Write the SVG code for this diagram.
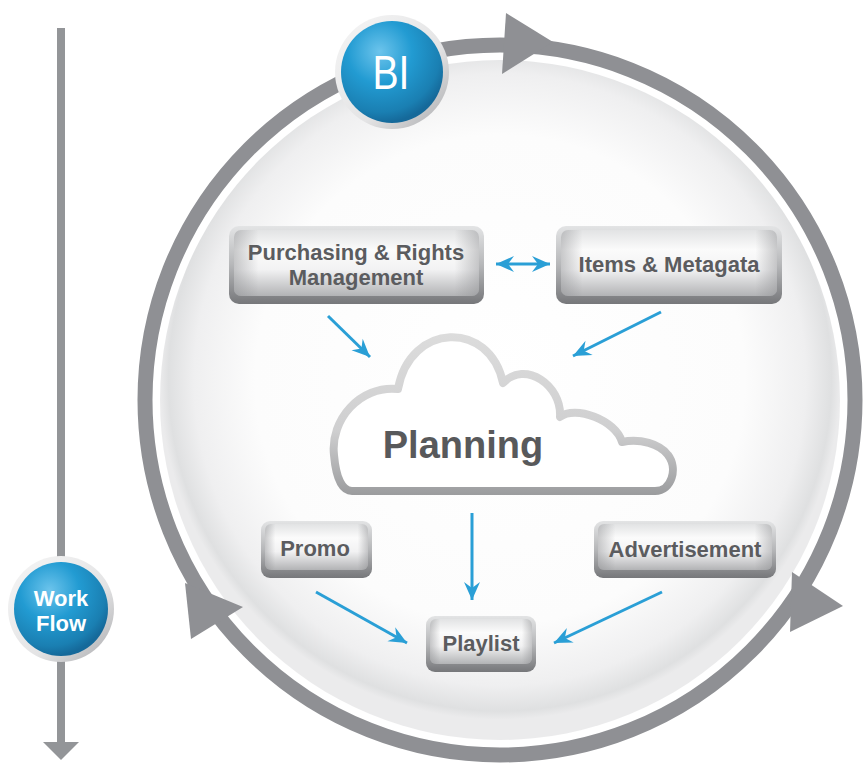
<svg xmlns="http://www.w3.org/2000/svg" width="866" height="766" viewBox="0 0 866 766">
<defs>
<radialGradient id="disc" cx="50%" cy="47%" r="50%">
<stop offset="0" stop-color="#ffffff"/>
<stop offset="0.72" stop-color="#fcfcfc"/>
<stop offset="0.9" stop-color="#efeff0"/>
<stop offset="0.975" stop-color="#dfe0e1"/>
<stop offset="1" stop-color="#ebebec"/>
</radialGradient>
<linearGradient id="boxOuter" x1="0" y1="0" x2="0" y2="1">
<stop offset="0" stop-color="#e3e4e5"/>
<stop offset="0.5" stop-color="#b6b7b9"/>
<stop offset="1" stop-color="#76777a"/>
</linearGradient>
<linearGradient id="boxFace" x1="0" y1="0" x2="0" y2="1">
<stop offset="0" stop-color="#e2e3e4"/>
<stop offset="0.3" stop-color="#fbfbfb"/>
<stop offset="0.6" stop-color="#f2f2f3"/>
<stop offset="1" stop-color="#b2b3b5"/>
</linearGradient>
<linearGradient id="boxSide" x1="0" y1="0" x2="1" y2="0">
<stop offset="0" stop-color="#8a8b8e" stop-opacity="0.45"/>
<stop offset="0.1" stop-color="#8a8b8e" stop-opacity="0"/>
<stop offset="0.9" stop-color="#8a8b8e" stop-opacity="0"/>
<stop offset="1" stop-color="#8a8b8e" stop-opacity="0.45"/>
</linearGradient>
<linearGradient id="cloudStroke" gradientUnits="userSpaceOnUse" x1="0" y1="333" x2="0" y2="495">
<stop offset="0" stop-color="#dcdcdc"/>
<stop offset="0.6" stop-color="#cfcfd0"/>
<stop offset="1" stop-color="#9b9c9e"/>
</linearGradient>
<radialGradient id="blue" cx="38%" cy="30%" r="70%">
<stop offset="0" stop-color="#6cc4ec"/>
<stop offset="0.45" stop-color="#229bd2"/>
<stop offset="0.85" stop-color="#1a7fb2"/>
<stop offset="1" stop-color="#15699a"/>
</radialGradient>
<linearGradient id="rim" x1="0" y1="0" x2="1" y2="1">
<stop offset="0" stop-color="#f6f6f6"/>
<stop offset="0.6" stop-color="#e4e4e5"/>
<stop offset="1" stop-color="#a9aaad"/>
</linearGradient>
<marker id="ah" viewBox="-20 -10 22 20" refX="0" refY="0" markerWidth="22" markerHeight="20" markerUnits="userSpaceOnUse" orient="auto-start-reverse">
<path d="M0,0 L-18,-8 L-12,0 L-18,8 Z" fill="#2a9fd6"/>
</marker>
<style>
.ring{fill:none;stroke:#8f9094;stroke-width:15}
.gray{fill:#8f9094}
.bo{fill:url(#boxOuter)}
.bf{fill:url(#boxFace)}
.bs{fill:url(#boxSide)}
.lbl{font-family:"Liberation Sans",Arial,sans-serif;font-weight:bold;font-size:22px;fill:#5b5c5f;text-anchor:middle}
.conn{stroke:#2a9fd6;stroke-width:3;fill:none;marker-end:url(#ah)}
.wt{font-family:"Liberation Sans",Arial,sans-serif;fill:#ffffff;text-anchor:middle}
</style>
</defs>
<rect width="866" height="766" fill="#ffffff"/>

<g id="cycle">
<circle cx="500" cy="400" r="340" fill="url(#disc)"/>
<circle class="ring" cx="500" cy="400" r="355"/>
<polygon class="gray" points="506,13 502,74 553,42"/>
<polygon class="gray" points="792,572 843,606 790,632"/>
<polygon class="gray" points="185,583 191,639 243,607"/>
</g>

<g id="workflow-axis">
<line x1="61" y1="28" x2="61" y2="744" stroke="#939598" stroke-width="8"/>
<polygon points="43,742 79,742 61,760" fill="#939598"/>
</g>

<g id="connectors">
<line class="conn" x1="496" y1="264" x2="550" y2="264" marker-start="url(#ah)"/>
<line class="conn" x1="328" y1="316" x2="370" y2="357"/>
<line class="conn" x1="661" y1="312" x2="573" y2="356"/>
<line class="conn" x1="472" y1="513" x2="472" y2="600"/>
<line class="conn" x1="316" y1="592" x2="407" y2="643"/>
<line class="conn" x1="662" y1="592" x2="554" y2="643"/>
</g>

<g id="planning">
<path d="M352,491 H655 C672,491 678,468 668,455 C660,444 640,438 622,442 C616,420 575,405 560,417 C562,385 525,360 503,383 C490,320 410,322 398,389 C360,385 330,420 334,455 C336,478 342,491 352,491 Z" fill="#ffffff" stroke="url(#cloudStroke)" stroke-width="8" stroke-linejoin="round"/>
<text x="463" y="458" font-family="Liberation Sans,Arial,sans-serif" font-weight="bold" font-size="38" fill="#58595b" text-anchor="middle">Planning</text>
</g>

<g id="purchasing">
<rect class="bo" x="229" y="226" width="255" height="78" rx="10"/>
<rect class="bf" x="234" y="230" width="245" height="66" rx="7"/>
<rect class="bs" x="234" y="230" width="245" height="66" rx="7"/>
<text class="lbl" x="356" y="260" font-size="21.5">Purchasing &amp; Rights</text>
<text class="lbl" x="356" y="285" font-size="21.5">Management</text>
</g>

<g id="items">
<rect class="bo" x="556" y="226" width="226" height="78" rx="10"/>
<rect class="bf" x="561" y="230" width="216" height="66" rx="7"/>
<rect class="bs" x="561" y="230" width="216" height="66" rx="7"/>
<text class="lbl" x="669" y="272" font-size="23">Items &amp; Metagata</text>
</g>

<g id="promo">
<rect class="bo" x="261" y="521" width="111" height="57" rx="9"/>
<rect class="bf" x="265" y="524" width="103" height="46" rx="6"/>
<rect class="bs" x="265" y="524" width="103" height="46" rx="6"/>
<text class="lbl" x="315" y="556">Promo</text>
</g>

<g id="advertisement">
<rect class="bo" x="594" y="521" width="182" height="57" rx="9"/>
<rect class="bf" x="598" y="524" width="174" height="46" rx="6"/>
<rect class="bs" x="598" y="524" width="174" height="46" rx="6"/>
<text class="lbl" x="685" y="557" font-size="23">Advertisement</text>
</g>

<g id="playlist">
<rect class="bo" x="426" y="616" width="110" height="56" rx="9"/>
<rect class="bf" x="430" y="619" width="102" height="45" rx="6"/>
<rect class="bs" x="430" y="619" width="102" height="45" rx="6"/>
<text class="lbl" x="481" y="651">Playlist</text>
</g>

<g id="bi">
<circle cx="392" cy="72" r="57" fill="url(#rim)"/>
<circle cx="392" cy="72" r="51" fill="url(#blue)"/>
<text class="wt" x="391" y="89" font-size="48" textLength="37" lengthAdjust="spacingAndGlyphs">BI</text>
</g>

<g id="workflow">
<circle cx="61" cy="609" r="53" fill="url(#rim)"/>
<circle cx="61" cy="609" r="47" fill="url(#blue)"/>
<text class="wt" x="61" y="606" font-size="22" font-weight="bold">Work</text>
<text class="wt" x="61" y="631" font-size="22" font-weight="bold">Flow</text>
</g>
</svg>
